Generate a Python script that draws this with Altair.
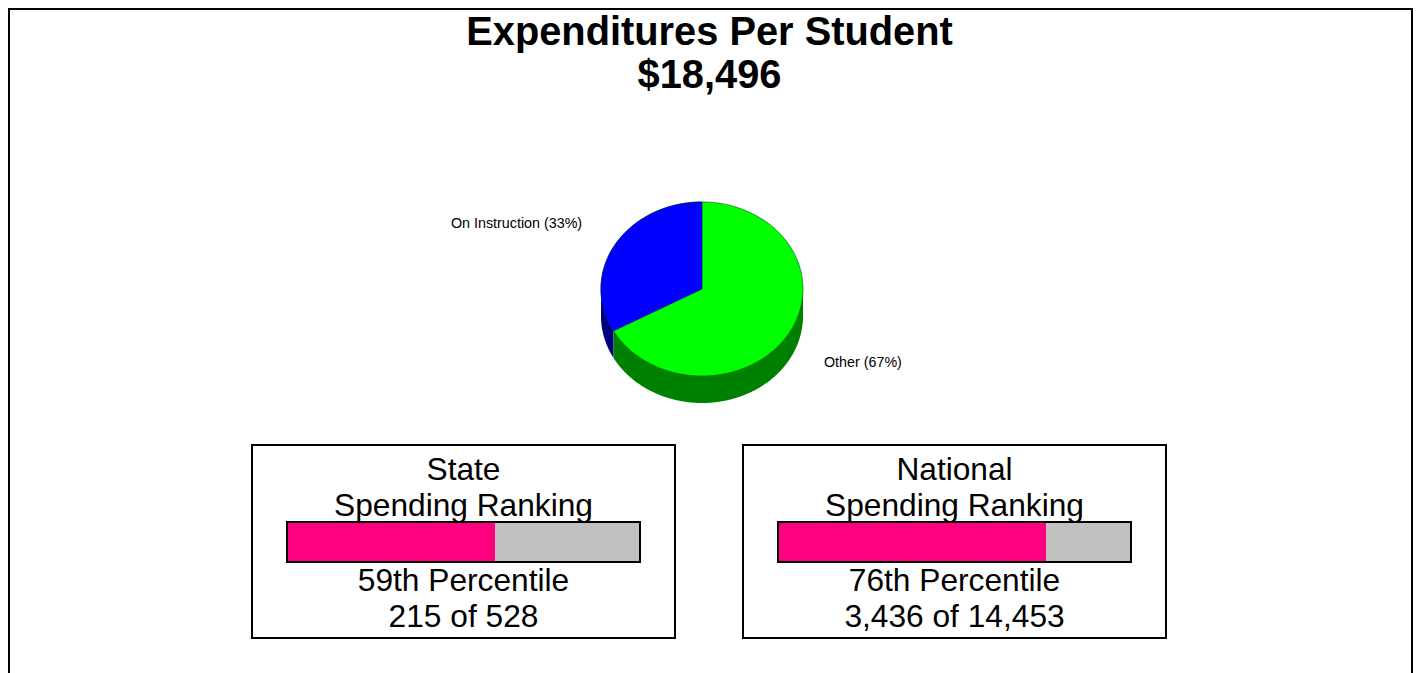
import altair as alt
import numpy as np
import pandas as pd

FONT = "Liberation Sans"

title_lines = ["Expenditures Per Student", "$18,496"]
slice_labels = ["On Instruction (33%)", "Other (67%)"]
slice_shares = [33, 67]
slice_colors = ["#0000ff", "#00ff00"]
slice_side_colors = ["#000080", "#008000"]

panel_titles = [["State", "Spending Ranking"], ["National", "Spending Ranking"]]
panel_notes = [["59th Percentile", "215 of 528"], ["76th Percentile", "3,436 of 14,453"]]
percentiles = [59, 76]

W, H = 1405, 665
PINK = "#ff0080"
GREY = "#c0c0c0"

# ---- pie geometry in unit-ellipse coordinates, derived from the shares ----
DEPTH = 27 / 87
end_angle = 2 * np.pi * slice_shares[0] / sum(slice_shares)
xe, ye = -np.sin(end_angle), np.cos(end_angle)
xs = np.cos(np.linspace(np.pi, 0, 721))
xs = np.unique(np.append(xs, [xe, 0.0]))


def rim(x):
    return np.sqrt(np.clip(1 - x * x, 0, 1))


top_df = pd.DataFrame({"x": xs, "y": rim(xs), "y2": -rim(xs)})
bx = xs[xs <= 0]
lower = np.where(bx < xe, -rim(bx), ye * bx / xe)
blue_df = pd.DataFrame({"x": bx, "y": rim(bx), "y2": lower})
side_l = xs[xs <= xe]
side_r = xs[xs >= xe]
side_l_df = pd.DataFrame({"x": side_l, "y": 0.0 * side_l, "y2": -rim(side_l) - DEPTH})
side_r_df = pd.DataFrame({"x": side_r, "y": 0.0 * side_r, "y2": -rim(side_r) - DEPTH})

px = alt.Scale(domain=[-1, 1], range=[593, 795])
py = alt.Scale(domain=[-1, 1], range=[368, 194])


def pie_area(df, fill, stroke, sw=0.0):
    return alt.Chart(df).mark_area(fill=fill, stroke=stroke, strokeWidth=sw, opacity=1).encode(
        x=alt.X("x:Q", scale=px, axis=None),
        y=alt.Y("y:Q", scale=py, axis=None),
        y2="y2:Q",
    )


pie = alt.layer(
    pie_area(side_l_df, slice_side_colors[0], slice_side_colors[0]),
    pie_area(side_r_df, slice_side_colors[1], slice_side_colors[1]),
    pie_area(top_df, slice_colors[1], "#006000", 0.7),
    pie_area(blue_df, slice_colors[0], "#000090", 0.7),
)


def text_layer(lines, xpos, ypos, size, weight="normal", align="center"):
    layers = []
    for i, line in enumerate(lines):
        layers.append(
            alt.Chart(pd.DataFrame({"t": [line]})).mark_text(
                font=FONT, fontSize=size, fontWeight=weight, align=align,
                baseline="alphabetic", color="#000000",
            ).encode(text="t:N", x=alt.value(xpos), y=alt.value(ypos[i]))
        )
    return layers


def ranking_panel(box, bar, titles, notes, pct):
    cx = (box[0] + box[1]) / 2
    frame = alt.Chart(pd.DataFrame({"a": [0]})).mark_rect(
        fill="#ffffff", stroke="#000000", strokeWidth=2
    ).encode(x=alt.value(box[0]), x2=alt.value(box[1]), y=alt.value(437), y2=alt.value(630))
    texts = text_layer(titles + notes, cx, [472, 508, 583, 619], 31.7)
    sc = alt.Scale(domain=[0, 100], range=bar)
    seg = pd.DataFrame({"a": [0, pct], "b": [pct, 100], "c": [PINK, GREY]})
    segs = alt.Chart(seg).mark_rect().encode(
        x=alt.X("a:Q", scale=sc, axis=None),
        x2="b:Q",
        y=alt.value(514),
        y2=alt.value(554),
        color=alt.Color("c:N", scale=None, legend=None),
    )
    outline = alt.Chart(pd.DataFrame({"a": [0], "b": [100]})).mark_rect(
        fill=None, stroke="#000000", strokeWidth=2
    ).encode(
        x=alt.X("a:Q", scale=sc, axis=None), x2="b:Q", y=alt.value(514), y2=alt.value(554)
    )
    return alt.layer(frame, *texts, segs, outline)


def rule(sw, **enc):
    return alt.Chart(pd.DataFrame({"a": [0]})).mark_rule(color="#000000", strokeWidth=sw).encode(
        **{k: alt.value(v) for k, v in enc.items()}
    )


layers = [
    rule(4, x=0, x2=W, y=0),
    rule(4, x=0, y=0, y2=H),
    rule(2, x=W - 1, y=0, y2=H),
    *text_layer(title_lines, 701.5, [37, 80], 39.8, "bold"),
    *text_layer([slice_labels[0]], 443, [220], 14.3, align="left"),
    *text_layer([slice_labels[1]], 816, [359], 14.3, align="left"),
    pie,
    ranking_panel([244, 667], [279, 632], panel_titles[0], panel_notes[0], percentiles[0]),
    ranking_panel([735, 1158], [770, 1123], panel_titles[1], panel_notes[1], percentiles[1]),
]

chart = (
    alt.layer(*layers)
    .resolve_scale(x="independent", y="independent", color="independent")
    .properties(width=W, height=H, padding=0, autosize=alt.AutoSizeParams(type="none"), background="#ffffff")
    .configure_view(stroke=None)
)

chart.save("out.html", embed_options={"renderer": "svg", "actions": False})
